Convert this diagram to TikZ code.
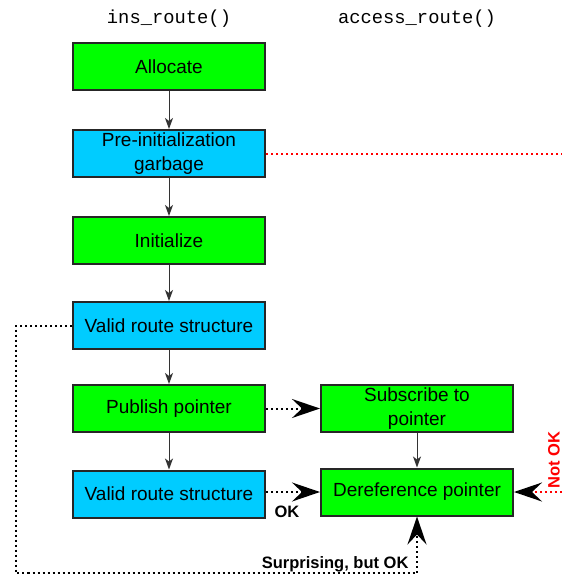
\documentclass[tikz,border=0pt]{standalone}
\usepackage{fontspec}
\setmainfont{Liberation Sans}
\setmonofont{Liberation Mono}
\usepackage{xcolor}
\usetikzlibrary{arrows.meta,positioning}

\definecolor{stepgreen}{RGB}{0,255,0}
\definecolor{stepblue}{RGB}{0,204,255}

\tikzset{
  stepbox/.style={draw=black!85,line width=2pt,minimum width=192pt,minimum height=47pt,
    align=center,inner sep=2pt,font=\fontsize{19}{24}\selectfont},
  greenbox/.style={stepbox,fill=stepgreen},
  bluebox/.style={stepbox,fill=stepblue},
  flow/.style={draw=black!80,line width=1pt,-{Stealth[length=11pt,width=8pt,inset=3pt]}},
  order/.style={line width=2pt,dash pattern=on 2pt off 3pt,-{Stealth[length=28pt,width=19pt,inset=10pt,black]}},
  lbl/.style={font=\fontsize{16.5}{19}\selectfont\bfseries},
  head/.style={font=\fontsize{18.8}{22}\selectfont\ttfamily}
}

\begin{document}
\begin{tikzpicture}[x=1pt,y=-1pt]
\useasboundingbox (0,0) rectangle (562,576);

\node[head] at (169,19) {ins\_route()};
\node[head] at (417,19) {access\_route()};

% writer side
\node[greenbox] (alloc) at (169,66.5) {Allocate};
\node[bluebox] (garbage) at (169,153.5) {Pre-initialization\\garbage};
\node[greenbox] (init) at (169,240.5) {Initialize};
\node[bluebox] (valid) at (169,325.5) {Valid route structure};
\node[greenbox] (publish) at (169,408.5) {Publish pointer};
\node[bluebox] (validb) at (169,494) {Valid route structure};

% reader side
\node[greenbox] (subscribe) at (417,408.5) {Subscribe to\\pointer};
\node[greenbox] (deref) at (417,492) {Dereference pointer};

\draw[flow] (alloc) -- (garbage);
\draw[flow] (garbage) -- (init);
\draw[flow] (init) -- (valid);
\draw[flow] (valid) -- (publish);
\draw[flow] (publish) -- (validb);
\draw[flow] (subscribe) -- (deref);

\draw[order] (publish) -- (subscribe);
\draw[order] (validb.east |- deref) -- (deref);
\node[lbl] (ok) at (287,512) {OK};

\coordinate (loopa) at (16,325.5);
\coordinate (loopb) at (16,573);
\coordinate (loopc) at (417,573);
\draw[order] (valid.west) -- (loopa) -- (loopb) -- (loopc) -- (deref.south);
\node[lbl,anchor=base east] (surprise) at (412,568) {Surprising, but OK};

\coordinate (garbageend) at (562,153.5);
\coordinate (notokend) at (562,492);
\draw[order,red,-] (garbage) -- (garbageend);
\draw[order,red] (notokend) -- (deref);
\node[lbl,text=red,rotate=90,anchor=south,inner sep=1pt] (notok) at (561,460) {Not OK};
\end{tikzpicture}
\end{document}
